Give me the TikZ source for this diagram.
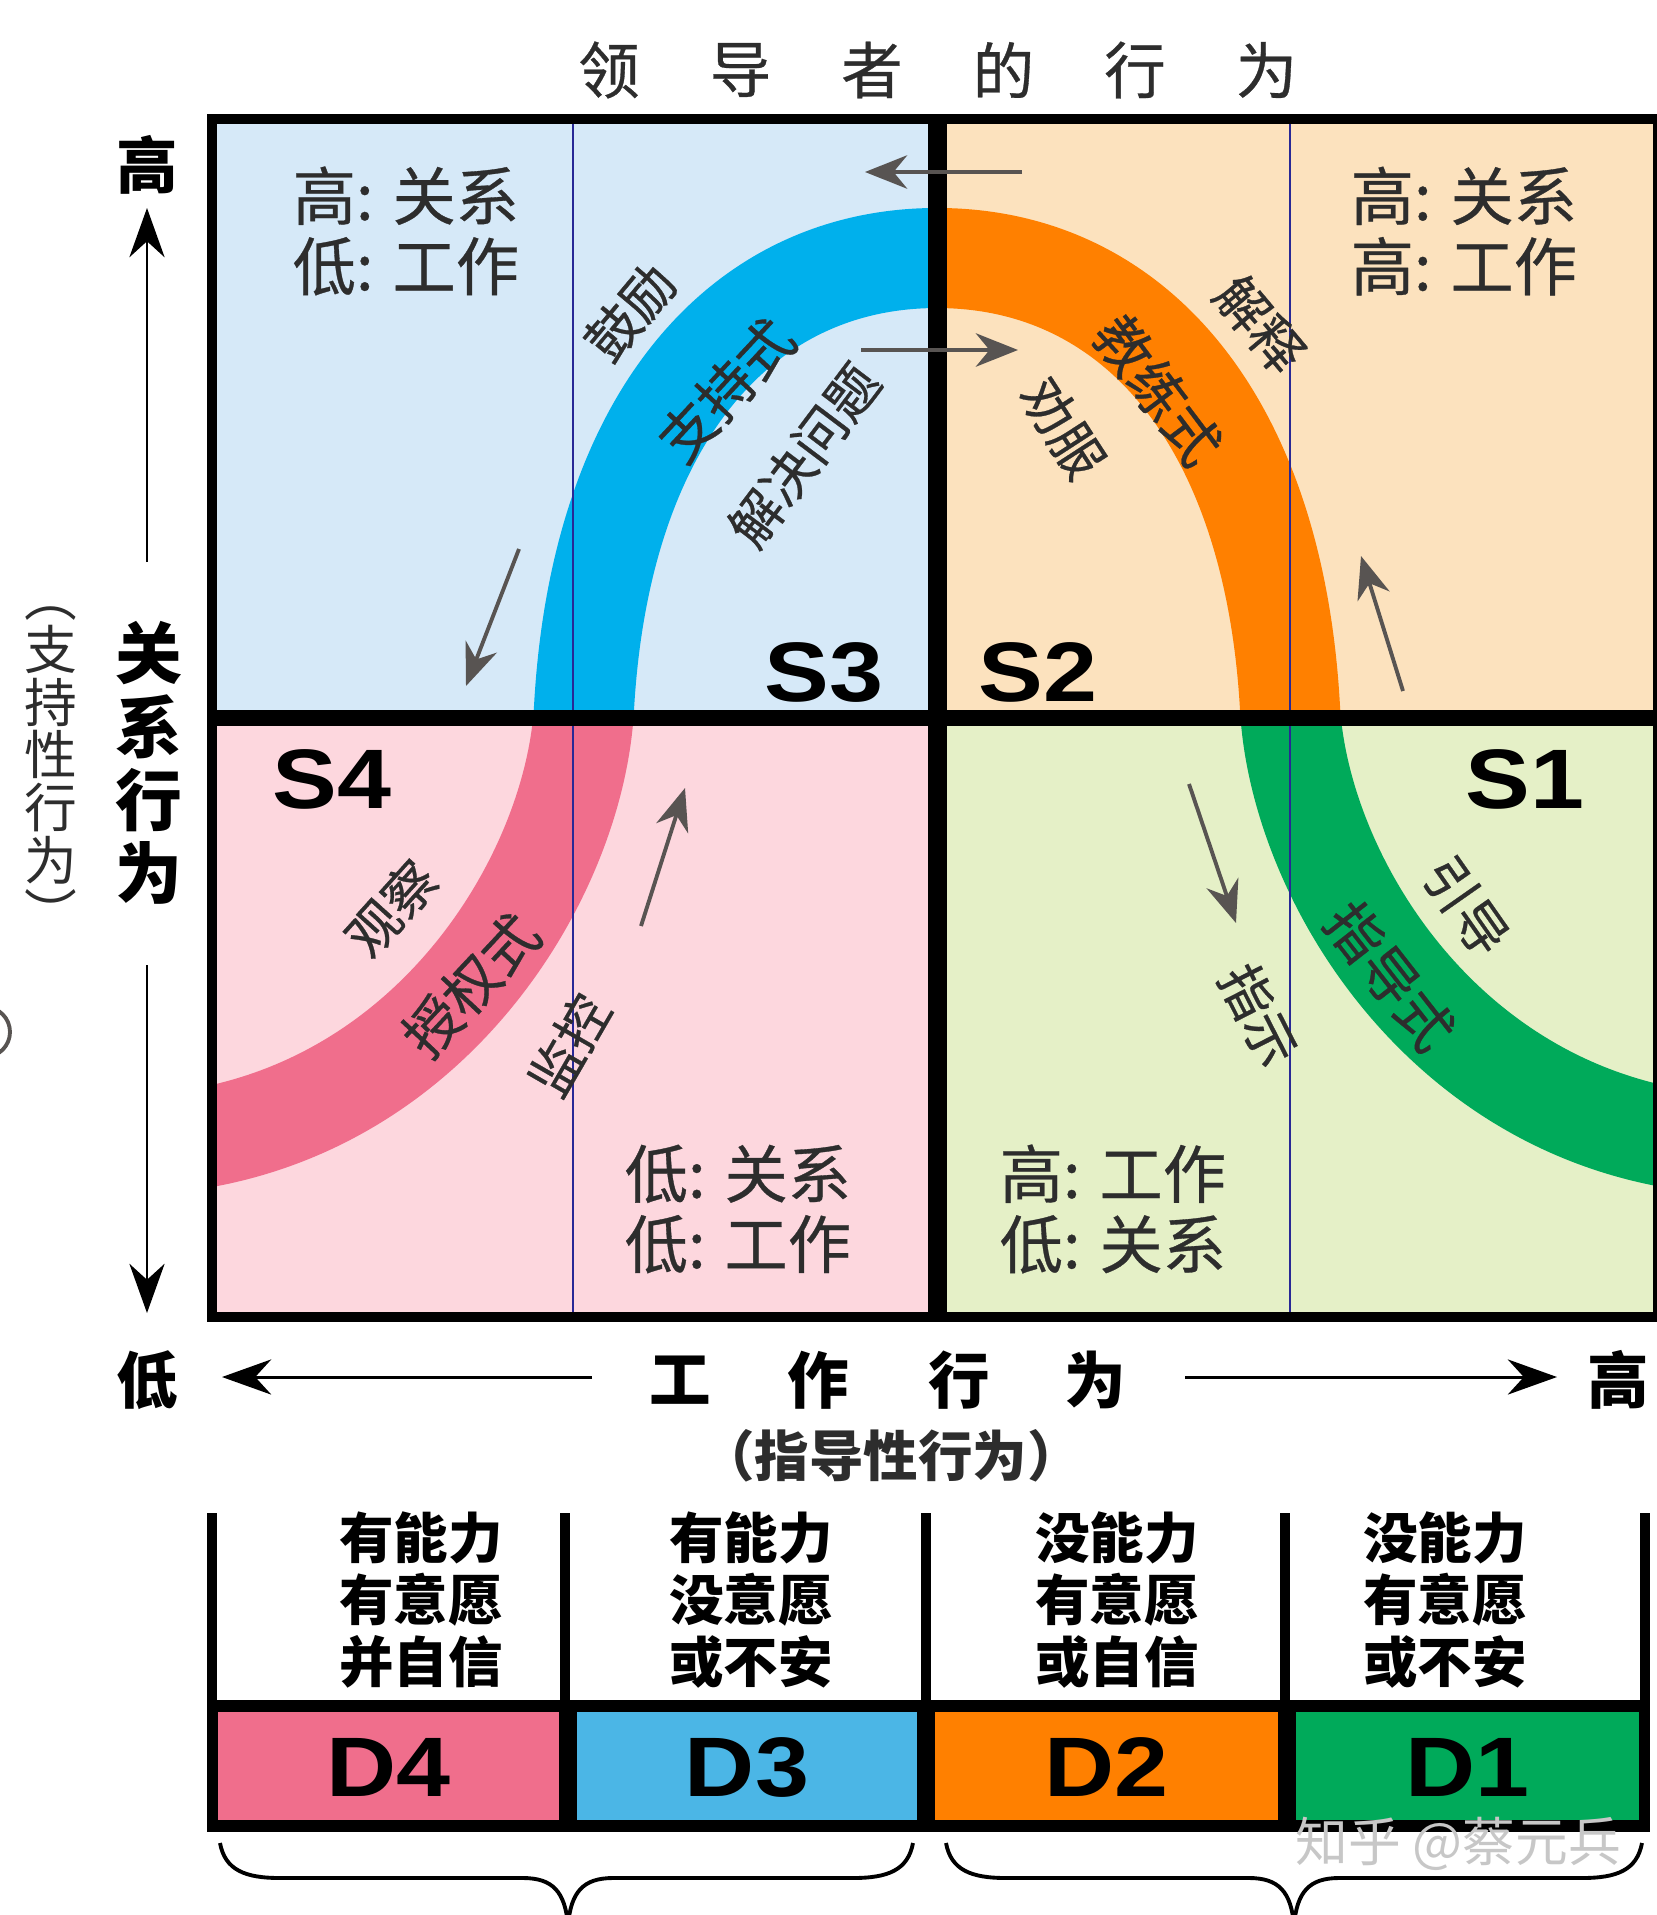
\documentclass[tikz,border=0pt]{standalone}
\usepackage{fontspec}
\setmainfont{Noto Sans CJK SC}
\newfontfamily\medfont{Noto Sans CJK SC}[FakeBold=0.5]
\newfontfamily\latfont{Liberation Sans}[FakeStretch=1.15]
\usetikzlibrary{arrows.meta}

\definecolor{bgthree}{RGB}{214,233,248}
\definecolor{bgtwo}{RGB}{252,226,190}
\definecolor{bgfour}{RGB}{253,215,222}
\definecolor{bgone}{RGB}{229,240,199}
\definecolor{bandthree}{RGB}{0,176,236}
\definecolor{bandtwo}{RGB}{255,128,0}
\definecolor{bandfour}{RGB}{240,110,140}
\definecolor{bandone}{RGB}{0,170,90}
\definecolor{dthree}{RGB}{75,182,230}
\definecolor{txtgray}{RGB}{45,45,45}
\definecolor{arrgray}{RGB}{88,84,82}
\definecolor{thinblue}{RGB}{40,40,150}

% centre line of the bell shaped band
\def\bellpath{(190,1140) .. controls (440,1102) and (575,870) .. (584,708)
  .. controls (600,420) and (740,258) .. (937,258)
  .. controls (1134,258) and (1274,420) .. (1290,708)
  .. controls (1299,870) and (1434,1102) .. (1684,1140)}

\begin{document}
\begin{tikzpicture}[x=0.01cm, y=-0.01cm,
    every node/.style={inner sep=0pt},
    band/.style={line width=1cm},
    qtext/.style={font=\medfont\fontsize{18}{20}\selectfont, text=txtgray, align=left, anchor=west},
    slabel/.style={font=\latfont\bfseries\fontsize{24}{24}\selectfont},
    blabel/.style={font=\medfont\fontsize{15}{15}\selectfont, text=txtgray},
    axtext/.style={font=\bfseries\fontsize{17.5}{17.5}\selectfont},
    ttext/.style={font=\medfont\fontsize{17.5}{17.5}\selectfont, text=txtgray},
    dtext/.style={font=\bfseries\fontsize{15.5}{17.6}\selectfont, align=center},
    garrow/.style={arrgray, line width=1.1pt, -{Stealth[length=12pt,width=9.5pt]}},
    axarrow/.style={line width=0.85pt, -{Stealth[length=14pt,width=10pt]}},
    brace/.style={line width=1.1pt}]
\useasboundingbox (0,0) rectangle (1656,1915);

% quadrants
\foreach \xa/\ya/\xb/\yb/\c in {212/119/937/718/bgthree, 937/119/1656/718/bgtwo,
    212/718/937/1317/bgfour, 937/718/1656/1317/bgone}
  \fill[\c] (\xa,\ya) rectangle (\xb,\yb);

% band, one colour per quadrant
\foreach \xa/\ya/\xb/\yb/\c in {212/119/937/718/bandthree, 937/119/1656/718/bandtwo,
    212/718/937/1317/bandfour, 937/718/1656/1317/bandone} {
  \begin{scope}
    \clip (\xa,\ya) rectangle (\xb,\yb);
    \draw[band, \c] \bellpath;
  \end{scope}
}

\draw[thinblue, line width=0.5pt] (573,119) -- (573,1317);
\draw[thinblue, line width=0.5pt] (1290,119) -- (1290,1317);

% frame
\draw[line width=3.1pt] (212,119) rectangle (1658,1317);
\draw[line width=5.4pt] (937,119) -- (937,1317);
\draw[line width=4.5pt] (212,718) -- (1658,718);

% title
\foreach \c [count=\i] in {领,导,者,的,行,为}
  \node[ttext] (T\i) at ({609+131.5*(\i-1)},70) {\c};

% quadrant texts
\node[qtext] (Q3) at (292,231) {高: 关系\\低: 工作};
\node[qtext] (Q2) at (1350,231) {高: 关系\\高: 工作};
\node[qtext] (Q4) at (624,1209) {低: 关系\\低: 工作};
\node[qtext] (Q1) at (999,1209) {高: 工作\\低: 关系};

\node[slabel] (S3) at (824,672) {S3};
\node[slabel] (S2) at (1038,672) {S2};
\node[slabel] (S4) at (332,779) {S4};
\node[slabel] (S1) at (1525,779) {S1};

% texts along the band
\node[blabel, rotate=50] (L1) at (630,312) {鼓励};
\node[blabel, rotate=47, font=\medfont\fontsize{16}{16}\selectfont] (L2) at (726,390) {支持式};
\node[blabel, rotate=53] (L3) at (804,455) {解决问题};
\node[blabel, rotate=-53, font=\medfont\fontsize{16}{16}\selectfont] (L4) at (1158,390) {教练式};
\node[blabel, rotate=-50] (L5) at (1260,324) {解释};
\node[blabel, rotate=-57] (L6) at (1063,428) {劝服};
\node[blabel, rotate=48] (L7) at (391,908) {观察};
\node[blabel, rotate=47, font=\medfont\fontsize{16}{16}\selectfont] (L8) at (471,985) {授权式};
\node[blabel, rotate=60] (L9) at (569,1045) {监控};
\node[blabel, rotate=-52, font=\medfont\fontsize{16}{16}\selectfont] (L10) at (1390,976) {指导式};
\node[blabel, rotate=-55] (L11) at (1466,906) {引导};
\node[blabel, rotate=-63] (L12) at (1259,1015) {指示};

% grey arrows
\foreach \n/\xa/\ya/\xb/\yb in {g1/1022/172/865/172, g2/861/350/1018/350,
    g3/519/549/466/686, g4/1403/691/1361/556, g5/641/926/685/788, g6/1189/784/1236/923} {
  \coordinate (\n a) at (\xa,\ya);
  \coordinate (\n b) at (\xb,\yb);
  \draw[garrow] (\n a) -- (\n b);
}

% vertical axis
\node[axtext] (hiy) at (147,165) {高};
\node[axtext, align=center, font=\bfseries\fontsize{19}{20.8}\selectfont] (rel) at (149,763) {关\\系\\行\\为};
\node[axtext] (lo) at (147,1380) {低};
\node[align=center, text=txtgray, font=\fontsize{15}{15}\selectfont] (rel2) at (51,770) {︵\\支\\持\\性\\行\\为\\︶};
\coordinate (up0) at (147,562);
\coordinate (up1) at (147,208);
\coordinate (dn0) at (147,965);
\coordinate (dn1) at (147,1313);
\draw[axarrow] (up0) -- (up1);
\draw[axarrow] (dn0) -- (dn1);
\draw[arrgray, line width=1.1pt] (-15,1032) circle (25);

% horizontal axis
\foreach \c/\x [count=\i] in {工/680, 作/818, 行/959, 为/1095}
  \node[axtext] (W\i) at (\x,1380) {\c};
\node[axtext] (hix) at (1618,1380) {高};
\node[font=\bfseries\fontsize{15.5}{15.5}\selectfont, text=txtgray] (dir) at (891,1456) {（指导性行为）};
\coordinate (le0) at (592,1377);
\coordinate (le1) at (222,1377);
\coordinate (ri0) at (1185,1377);
\coordinate (ri1) at (1557,1377);
\draw[axarrow] (le0) -- (le1);
\draw[axarrow] (ri0) -- (ri1);

% development levels
\foreach \x in {212,565,926,1285,1645}
  \draw[line width=2.8pt] (\x,1513) -- (\x,1706);
\fill[black] (207,1700) rectangle (1650,1832);
\foreach \xa/\xb/\c/\t in {218/559/bandfour/D4, 577/917/dthree/D3,
    935/1278/bandtwo/D2, 1296/1639/bandone/D1} {
  \fill[\c] (\xa,1712) rectangle (\xb,1820);
  \node[slabel] (\t) at ({(\xa+\xb)/2},1767) {\t};
}
\node[dtext] (C4) at (421,1600) {有能力\\有意愿\\并自信};
\node[dtext] (C3) at (751,1600) {有能力\\没意愿\\或不安};
\node[dtext] (C2) at (1117,1600) {没能力\\有意愿\\或自信};
\node[dtext] (C1) at (1445,1600) {没能力\\有意愿\\或不安};

\foreach \a/\m/\b in {220/568/913, 946/1294/1642}
  \draw[brace] (\a,1843) .. controls (\a+5,1870) and (\a+25,1878) .. (\a+60,1878)
    -- (\m-45,1878) .. controls (\m-15,1878) and (\m-3,1892) .. (\m,1925)
    .. controls (\m+3,1892) and (\m+15,1878) .. (\m+45,1878)
    -- (\b-60,1878) .. controls (\b-25,1878) and (\b-5,1870) .. (\b,1843);

\node[text=black!22, font=\fontsize{15}{15}\selectfont] (wm) at (1458,1844) {知乎 @蔡元兵};
\end{tikzpicture}
\end{document}
